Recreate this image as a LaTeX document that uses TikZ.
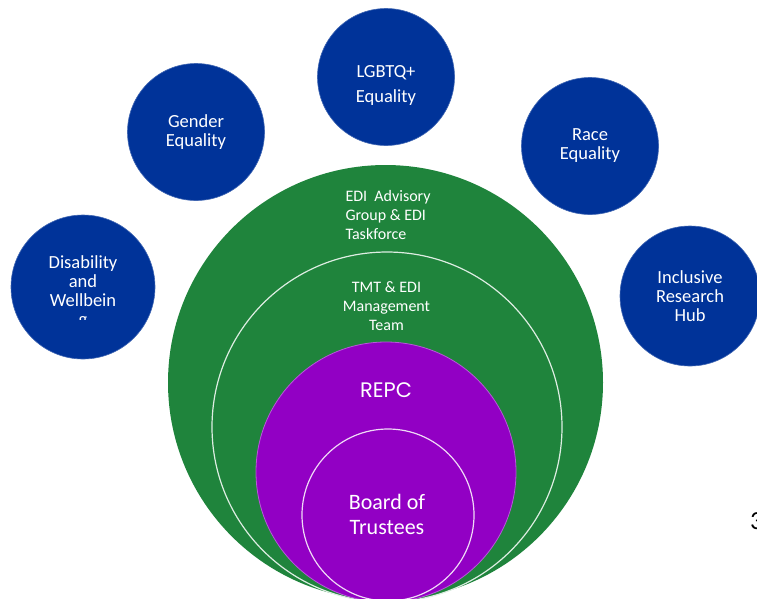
\documentclass[tikz,border=0pt]{standalone}
\usepackage{fontspec}
\setmainfont{Carlito}
\newfontfamily\repcfont{Poppins}
\usetikzlibrary{positioning}
\definecolor{edublue}{RGB}{0,51,153}
\definecolor{edigreen}{RGB}{31,132,60}
\definecolor{repcpurple}{RGB}{146,0,196}
\tikzset{topic/.style={circle,fill=edublue,draw=edublue!75!white,line width=0.6pt,minimum size=137pt,inner sep=0,text=white,align=center,font=\fontsize{18.5}{19}\selectfont},
    topictext/.style={text=white,align=center,font=\fontsize{18.5}{19}\selectfont},
    ring/.style={circle,inner sep=0},
    ringtext/.style={text=white,font=\fontsize{16}{19}\selectfont}
}

\begin{document}
\begin{tikzpicture}[x=1pt,y=-1pt]
\useasboundingbox (0,0) rectangle (757,598);
\clip (0,0) rectangle (757,598);

% the EDI strands round the top
\node[topic] (lgbtq) at (386,77) {};
\node[topictext] (lgbtqtext) at (386,85) {LGBTQ+\\[6pt]Equality};
\node[topic] (gender) at (196,132) {Gender\\Equality};
\node[topic] (race) at (590,146) {Race\\Equality};
\node[topic,minimum size=140pt] (inclusive) at (690,296) {Inclusive\\Research\\Hub};
\node[topic,minimum size=144pt] (disab) at (83,287) {};
\begin{scope}
    \clip (0,0) rectangle (170,319.5);
    \node[topictext] (disabtext) at (83,292.5) {Disability\\and\\Wellbein\\g};
\end{scope}

% nested governance circles, all sitting on the bottom edge
\node[ring,fill=edigreen,minimum size=435pt] (advisory) at (385.5,382.5) {};
\node[ring,fill=edigreen,draw=white!85!edigreen,line width=1.2pt,minimum size=350pt] (tmt) at (387,427) {};
\node[ring,fill=repcpurple,draw=white!35!repcpurple,line width=0.8pt,minimum size=260pt] (repc) at (386,472) {};
\node[ring,fill=repcpurple,draw=white!85!repcpurple,line width=1.2pt,minimum size=172pt] (board) at (388,515) {};

\node[ringtext,align=left,anchor=west] (advisorytext) at (342,215) {EDI~ Advisory\\Group \& EDI\\Taskforce};
\node[ringtext,align=center] (tmttext) at (386.5,306) {TMT \& EDI\\Management\\Team};
\node[text=white,font=\repcfont\fontsize{21}{24}\selectfont] (repctext) at (386,390) {REPC};
\node[text=white,align=center,font=\fontsize{22}{25}\selectfont] (boardtext) at (387,514.5) {Board of\\Trustees};

% page number, cut by the edge
\node[anchor=west,font=\fontsize{26}{26}\selectfont,inner sep=0] (slideno) at (750,521) {3};

\end{tikzpicture}
\end{document}
